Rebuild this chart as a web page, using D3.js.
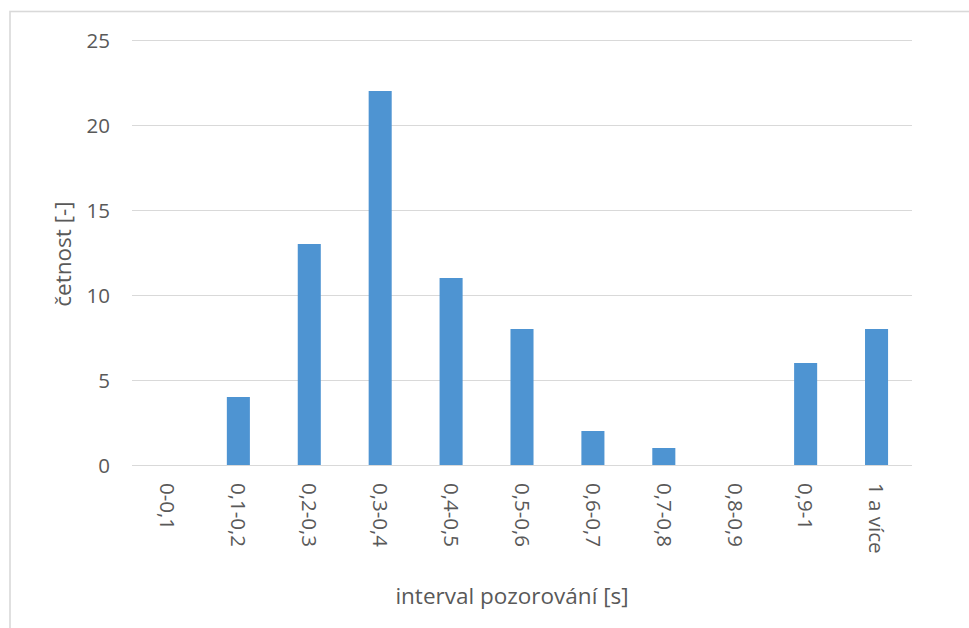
<!DOCTYPE html>
<html>
<head>
<meta charset="utf-8">
<script src="https://cdn.jsdelivr.net/npm/d3@7"></script>
<style>
  html, body { margin: 0; padding: 0; background: #fff; }
  svg { display: block; font-family: "Open Sans", "Noto Sans", sans-serif; }
</style>
</head>
<body>
<svg id="chart" width="969" height="628"></svg>
<script>
// Frequency of observation intervals
const categories = ["0-0,1", "0,1-0,2", "0,2-0,3", "0,3-0,4", "0,4-0,5", "0,5-0,6",
                    "0,6-0,7", "0,7-0,8", "0,8-0,9", "0,9-1", "1 a více"];
const counts = [0, 4, 13, 22, 11, 8, 2, 1, 0, 6, 8];
const yTicks = [0, 5, 10, 15, 20, 25];
const xTitle = "interval pozorování [s]";
const yTitle = "četnost [-]";

const svg = d3.select("#chart");
const textColor = "#595959";
const gridColor = "#d9d9d9";
const barColor = "#4e94d2";

const plot = { left: 132, right: 912, top: 40, bottom: 465 };

// chart area frame
svg.append("rect")
  .attr("x", 10).attr("y", 11.5)
  .attr("width", 1000).attr("height", 1000)
  .attr("fill", "none")
  .attr("stroke", gridColor)
  .attr("stroke-width", 1.6);

const x = d3.scaleBand()
  .domain(categories)
  .range([plot.left, plot.right])
  .paddingInner(0.675)
  .paddingOuter(0.3375);

const y = d3.scaleLinear()
  .domain([0, 25])
  .range([plot.bottom, plot.top]);

// horizontal gridlines
svg.append("g")
  .selectAll("line")
  .data(yTicks)
  .join("line")
  .attr("x1", plot.left).attr("x2", plot.right)
  .attr("y1", d => Math.round(y(d)) + 0.5)
  .attr("y2", d => Math.round(y(d)) + 0.5)
  .attr("stroke", gridColor)
  .attr("stroke-width", 1.2);

// bars
svg.append("g")
  .selectAll("rect")
  .data(categories.map((c, i) => ({ c, v: counts[i] })))
  .join("rect")
  .attr("x", d => x(d.c))
  .attr("width", x.bandwidth())
  .attr("y", d => y(d.v))
  .attr("height", d => y(0) - y(d.v))
  .attr("fill", barColor);

// y axis labels
const yAxis = d3.axisLeft(y).tickValues(yTicks).tickSize(0).tickPadding(0);
const gy = svg.append("g")
  .attr("transform", "translate(110,0)")
  .call(yAxis);
gy.select(".domain").remove();
gy.selectAll("text")
  .attr("fill", textColor)
  .attr("font-size", 20.5)
  .attr("font-family", "'Open Sans', sans-serif")
  .attr("dy", "0.35em");

// x axis labels, rotated
const xAxis = d3.axisBottom(x).tickSize(0).tickPadding(0);
const gx = svg.append("g")
  .attr("transform", `translate(0,${plot.bottom})`)
  .call(xAxis);
gx.select(".domain").remove();
gx.selectAll("text")
  .attr("fill", textColor)
  .attr("font-size", 20.5)
  .attr("font-family", "'Open Sans', sans-serif")
  .attr("text-anchor", "start")
  .attr("transform", "translate(0,18) rotate(90)")
  .attr("x", 0)
  .attr("y", 0)
  .attr("dy", "0.35em");

// axis titles
svg.append("text")
  .attr("x", 512).attr("y", 604)
  .attr("text-anchor", "middle")
  .attr("fill", textColor)
  .attr("font-size", 22.5)
  .text(xTitle);

svg.append("text")
  .attr("transform", "translate(71,254) rotate(-90)")
  .attr("text-anchor", "middle")
  .attr("fill", textColor)
  .attr("font-size", 22.5)
  .text(yTitle);
</script>
</body>
</html>
